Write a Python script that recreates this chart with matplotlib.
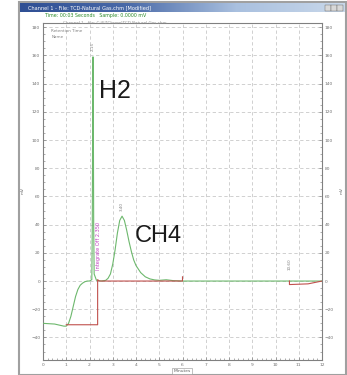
import matplotlib.pyplot as plt
from matplotlib.patches import Rectangle
import numpy as np

# detector signal (minutes, mV)
sig_time = [0, 0.5, 0.9, 1.0, 1.1, 1.2, 1.3, 1.4, 1.5, 1.6, 1.7, 1.8, 1.9, 2.0,
            2.1, 2.12, 2.14, 2.15, 2.16, 2.18, 2.2, 2.3, 2.5, 2.7, 2.8, 2.9, 3.0,
            3.1, 3.2, 3.3, 3.4, 3.5, 3.6, 3.7, 3.8, 3.9, 4.0, 4.2, 4.4, 4.6, 4.8,
            5.0, 5.3, 5.6, 6.0, 7.0, 8.0, 9.0, 10.0, 11.0, 12.0]
sig_mv = [-30, -30.5, -32, -32, -30, -25, -18, -11, -6, -3, -1.5, -0.5, 0, 0,
          1, 40, 140, 159, 140, 40, 5, 0.5, 0, 0.5, 2, 5, 12,
          22, 34, 43, 46, 43, 36, 28, 21, 15, 11, 6, 3, 1.5, 0.8,
          0.5, 0.9, 0.3, 0, 0, 0, 0, 0, 0, 0]

# integration baselines
base1_time = [1.0, 2.35, 2.35, 2.42, 6.0, 6.0]
base1_mv = [-31, -31, 1, 0, 0, 3]
base2_time = [10.6, 10.6, 11.4, 12.0]
base2_mv = [0, -2.5, -2, 0]

# peak labels
peak_names = ["H2", "CH4"]
peak_times = [2.15, 3.40]
peak_tops = [159, 46]
event_time = 10.6

x_ticks = list(range(0, 13))
y_ticks = list(range(-40, 181, 20))

W, H = 347, 375
fig = plt.figure(figsize=(W / 100, H / 100), dpi=100)


def fx(px):
    return px / W


def fy(py):
    return 1 - py / H


# window chrome
fig.patches.append(Rectangle((fx(19), fy(375)), fx(327), fy(2) - fy(375),
                             transform=fig.transFigure, facecolor="white",
                             edgecolor="#a0a0a0", lw=1.5, zorder=-2))

# title bar gradient
tb = fig.add_axes([fx(20), fy(12.5), fx(325), fy(3) - fy(12.5)])
tb.imshow(np.linspace(0, 1, 256).reshape(1, -1), aspect="auto",
          cmap=plt.matplotlib.colors.LinearSegmentedColormap.from_list(
              "tb", ["#2f4f94", "#4a6aa8", "#a9c0df", "#c9d8ea"]),
          extent=(0, 1, 0, 1))
tb.set_axis_off()
tb.text(0.025, 0.5, "Channel 1 - File: TCD-Natural Gas.chm [Modified]",
        color="white", fontsize=3.6, va="center", transform=tb.transAxes)

for bx in [325, 331, 337]:
    fig.patches.append(Rectangle((fx(bx), fy(11)), fx(5.5), fy(4.5) - fy(11),
                                 transform=fig.transFigure, facecolor="#d8d8d8",
                                 edgecolor="#606060", lw=0.3, zorder=5))
fig.text(fx(45), fy(16), "Time: 00:03 Seconds   Sample: 0.0000 mV",
         color="#2a8a2a", fontsize=3.4, va="center")
fig.text(fx(23), fy(190), "mV", color="#707070", fontsize=3.2, rotation=90,
         ha="center", va="center")
fig.text(fx(342), fy(190), "mV", color="#707070", fontsize=3.2, rotation=90,
         ha="center", va="center")
fig.text(fx(182), fy(371), "Minutes", color="#606060", fontsize=3.2,
         ha="center", va="center",
         bbox=dict(boxstyle="square,pad=0.2", fc="white", ec="#909090", lw=0.4))

ax = fig.add_axes([fx(43), fy(360), fx(322) - fx(43), fy(23) - fy(360)])
ax.set_xlim(0, 12)
ax.set_ylim(-56, 183)

ax.set_xticks(x_ticks)
ax.set_yticks(y_ticks)
ax.set_xticks(np.arange(0, 12.01, 0.2), minor=True)
ax.set_yticks(np.arange(-50, 181, 5), minor=True)
ax.tick_params(which="both", direction="in", colors="#707070", labelsize=3.2,
               pad=2, width=0.4, right=True, labelright=True)
ax.tick_params(which="major", length=2.5)
ax.tick_params(which="minor", length=1.2)
for s in ax.spines.values():
    s.set_color("#808080")
    s.set_linewidth(0.8)
ax.grid(True, which="major", color="#c9c9c9", lw=0.6, ls=(0, (4, 3)))

ax.plot(sig_time, sig_mv, color="#6db86d", lw=0.8, zorder=3)
ax.plot(base1_time, base1_mv, color="#c0504d", lw=0.8, zorder=4)
ax.plot(base2_time, base2_mv, color="#c0504d", lw=0.8, zorder=4)

for name, t, top in zip(peak_names, peak_times, peak_tops):
    ax.text(t, top + 4, "%.2f" % t, rotation=90, fontsize=3, color="#808080",
            ha="center", va="bottom")
ax.text(event_time, 8, "%.2f" % event_time, rotation=90, fontsize=3,
        color="#808080", ha="center", va="bottom")
ax.text(2.4, 8, "Integrate Off 2.350", rotation=90, fontsize=3.6,
        color="#c040c0", ha="center", va="bottom")

ax.text(0.35, 177, "Retention Time", fontsize=3, color="#808080", va="center")
ax.text(0.35, 173, "Name", fontsize=3, color="#808080", va="center")
ax.text(0.85, 183, "Channel 1 - file: C:\\EZChrom\\TCD Natural Gas.chm",
        fontsize=3, color="#909090", va="center")

ax.text(peak_times[0] + 0.25, 135, peak_names[0], fontsize=18, color="#1a1a1a",
        va="center", ha="left", family="Liberation Sans")
ax.text(peak_times[1] + 0.55, 32, peak_names[1], fontsize=17, color="#1a1a1a",
        va="center", ha="left", family="Liberation Sans")

fig.savefig("out.png", dpi=100)
